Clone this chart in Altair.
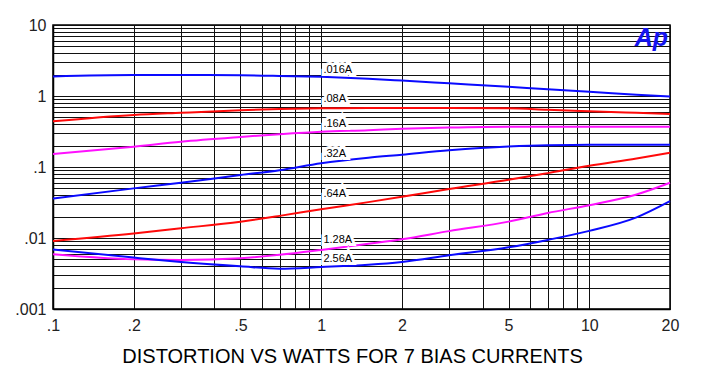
import altair as alt
import pandas as pd

# ---- data ----
watts = [0.1, 0.2, 0.3, 0.5, 0.7, 1, 1.5, 2, 3, 5, 7, 10, 15, 20]
series_names = [".016A", ".08A", ".16A", ".32A", ".64A", "1.28A", "2.56A"]
series_colors = ["#0a0aff", "#ff0a0a", "#ff10ff", "#0a0aff", "#ff0a0a", "#ff10ff", "#0a0aff"]

d_016 = [1.88, 1.97, 1.97, 1.96, 1.92, 1.86, 1.75, 1.65, 1.51, 1.35, 1.24, 1.15, 1.04, 0.98]
d_08 = [0.44, 0.54, 0.58, 0.63, 0.655, 0.67, 0.68, 0.68, 0.68, 0.67, 0.64, 0.61, 0.58, 0.56]
d_16 = [0.152, 0.193, 0.227, 0.265, 0.29, 0.314, 0.33, 0.345, 0.36, 0.37, 0.37, 0.37, 0.37, 0.37]
d_32 = [0.036, 0.05, 0.06, 0.077, 0.09, 0.113, 0.135, 0.149, 0.172, 0.195, 0.203, 0.205, 0.205, 0.205]
d_64 = [0.0091, 0.0116, 0.0137, 0.017, 0.0205, 0.0254, 0.032, 0.038, 0.049, 0.066, 0.082, 0.104, 0.132, 0.159]
d_128 = [0.0059, 0.005, 0.0049, 0.0052, 0.0058, 0.0068, 0.0083, 0.0096, 0.0125, 0.017, 0.0225, 0.029, 0.041, 0.06]
d_256 = [0.0069, 0.0053, 0.0046, 0.004, 0.0037, 0.0039, 0.0042, 0.0046, 0.0057, 0.0074, 0.0094, 0.0126, 0.0195, 0.033]
all_series = [d_016, d_08, d_16, d_32, d_64, d_128, d_256]

label_x = [1.02, 1.02, 1.02, 1.02, 1.02, 1.02, 1.02]
label_y = [2.32, 0.9, 0.404, 0.152, 0.0417, 0.0094, 0.00506]

x_grid_values = [0.1, 0.2, 0.3, 0.4, 0.5, 0.6, 0.7, 0.8, 0.9,
                 1, 2, 3, 4, 5, 6, 7, 8, 9, 10, 20]
x_tick_values = [0.1, 0.2, 0.5, 1, 2, 5, 10, 20]
x_tick_labels = [".1", ".2", ".5", "1", "2", "5", "10", "20"]

y_grid_values = [0.001, 0.002, 0.003, 0.004, 0.005, 0.006, 0.007, 0.008, 0.009,
                 0.01, 0.02, 0.03, 0.04, 0.05, 0.06, 0.07, 0.08, 0.09,
                 0.1, 0.2, 0.3, 0.4, 0.5, 0.6, 0.7, 0.8, 0.9,
                 1, 2, 3, 4, 5, 6, 7, 8, 9, 10]
y_tick_values = [0.001, 0.01, 0.1, 1, 10]
y_tick_labels = [".001", ".01", ".1", "1", "10"]

title_text = "DISTORTION VS WATTS FOR 7 BIAS CURRENTS"
logo_text = "Ap"

# ---- build tables ----
rows = []
for name, vals in zip(series_names, all_series):
    for w, v in zip(watts, vals):
        rows.append({"watts": w, "dist": v, "series": name})
df = pd.DataFrame(rows)
labels_df = pd.DataFrame({"watts": label_x, "dist": label_y, "text": series_names})


def label_expr(values, texts):
    expr = "''"
    for v, t in reversed(list(zip(values, texts))):
        expr = f"datum.value == {v} ? '{t}' : ({expr})"
    return expr


font = "Liberation Sans, Arial"

x_scale = alt.Scale(type="log", domain=[0.1, 20], nice=False)
y_scale = alt.Scale(type="log", domain=[0.001, 10], nice=False)

axis_common = dict(title=None, grid=True, ticks=False, labelFont=font,
                   labelFontSize=16, labelColor="#222", labelOverlap=False,
                   labelFlush=False, gridColor="#111", gridWidth=1, gridOpacity=1,
                   domainColor="black", domainWidth=1.5)

x_enc = alt.X("watts:Q", scale=x_scale, axis=alt.Axis(
    values=x_grid_values, labelExpr=label_expr(x_tick_values, x_tick_labels),
    labelPadding=8, **axis_common))
y_enc = alt.Y("dist:Q", scale=y_scale, axis=alt.Axis(
    values=y_grid_values, labelExpr=label_expr(y_tick_values, y_tick_labels),
    labelPadding=7, **axis_common))

lines = alt.Chart(df).mark_line(strokeWidth=2, interpolate="monotone").encode(
    x=x_enc, y=y_enc,
    color=alt.Color("series:N", scale=alt.Scale(domain=series_names, range=series_colors), legend=None),
    detail="series:N",
)

halo = alt.Chart(labels_df).mark_text(
    align="left", baseline="middle", fontSize=11, font=font,
    stroke="white", strokeWidth=6, fill="white").encode(
    x=x_enc, y=y_enc, text="text:N")

texts = alt.Chart(labels_df).mark_text(
    align="left", baseline="middle", fontSize=11, font=font,
    color="black").encode(
    x=x_enc, y=y_enc, text="text:N")

logo = alt.Chart(pd.DataFrame({"t": [logo_text]})).mark_text(
    align="right", baseline="top", fontSize=25, fontWeight="bold", fontStyle="italic",
    font=font, color="#1414f0").encode(
    x=alt.value(615), y=alt.value(1), text="t:N")

chart = alt.layer(lines, halo, texts, logo).properties(
    width=617, height=284,
    autosize=alt.AutoSizeParams(type="none"),
    padding={"left": 45, "top": 17, "right": 20, "bottom": 65},
    title=alt.TitleParams(text=title_text, orient="bottom", anchor="middle",
                          font=font, fontSize=20, fontWeight="normal",
                          color="black", offset=14, dx=-9),
).configure_view(stroke="black", strokeWidth=1.5)

chart.save("out.html", embed_options={"renderer": "svg", "actions": False})
